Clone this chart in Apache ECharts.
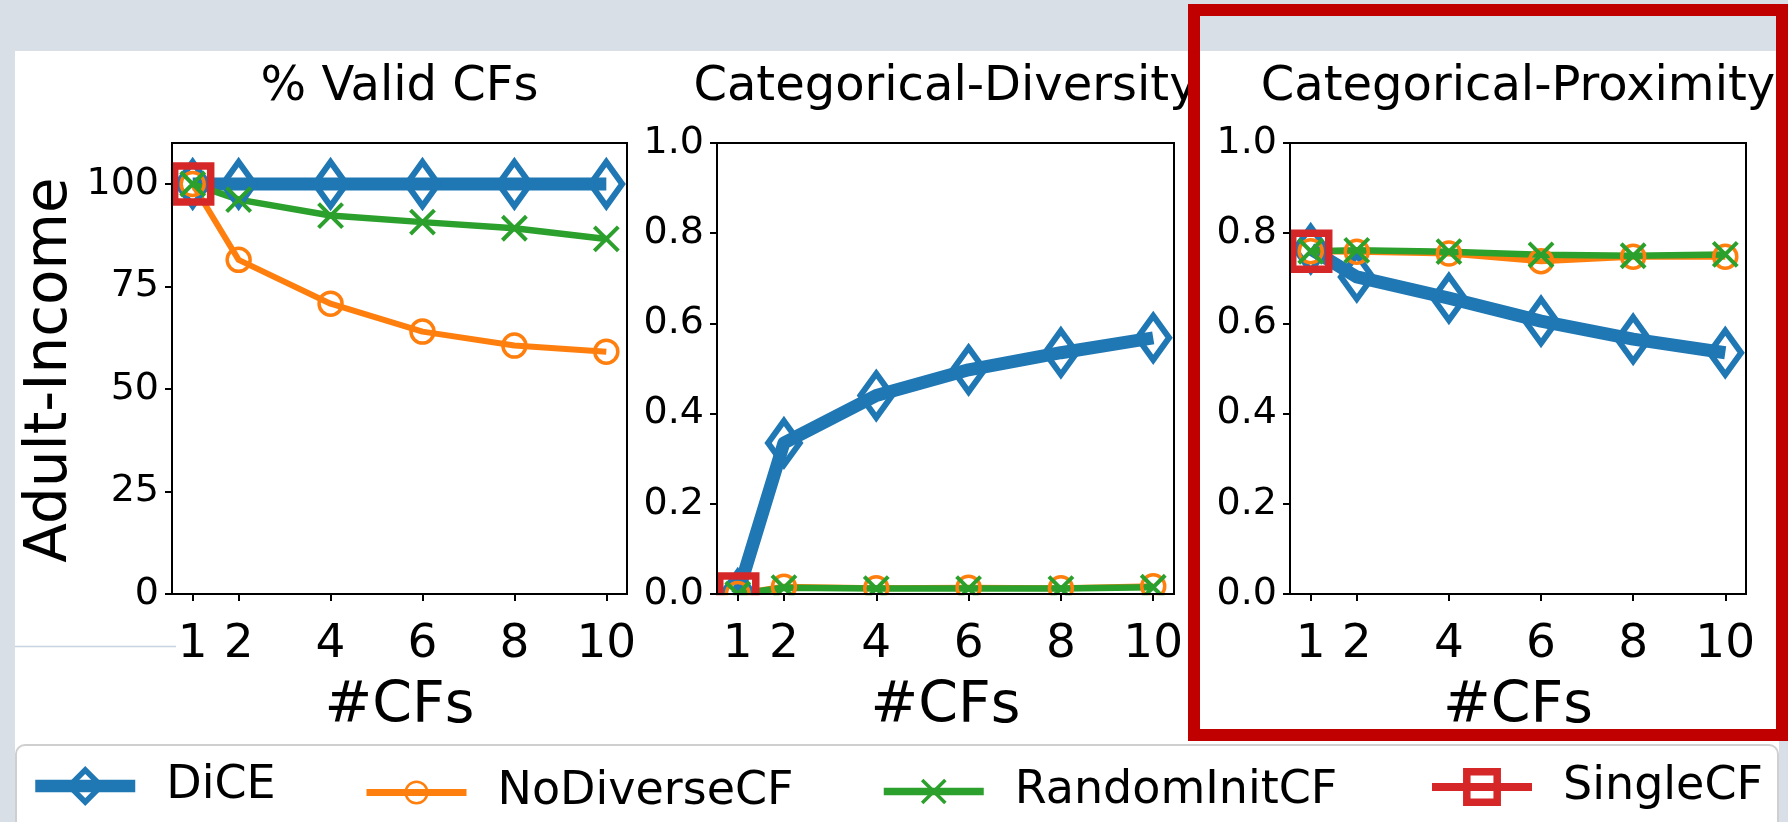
<!DOCTYPE html>
<html><head><meta charset="utf-8">
<script src="https://cdn.jsdelivr.net/npm/echarts@6/dist/echarts.min.js"></script>
<style>
html,body{margin:0;padding:0;background:#d9dfe7;}
#wrap{position:relative;width:1788px;height:822px;overflow:hidden;background:#d9dfe7;}
#paper{position:absolute;left:15px;top:51px;width:1764px;height:771px;background:#fff;}
#chart{position:absolute;left:0;top:0;width:1788px;height:822px;}
</style></head><body>
<div id="wrap"><div id="paper"></div><div id="chart"></div></div>
<script>
// ---------- data ----------
const numCFs = [1, 2, 4, 6, 8, 10];
const xTicks = [1, 2, 4, 6, 8, 10];
const validTicks = [0, 25, 50, 75, 100];
const fracTicks = [0, 0.2, 0.4, 0.6, 0.8, 1.0];
const seriesNames = ['DiCE', 'NoDiverseCF', 'RandomInitCF', 'SingleCF'];
const panelTitles = ['% Valid CFs', 'Categorical-Diversity', 'Categorical-Proximity'];
const rowLabel = 'Adult-Income';
const xName = '#CFs';

const validDiCE = [100, 100, 100, 100, 100, 100];
const validNoDiverse = [100, 81.5, 70.8, 64.0, 60.6, 59.1];
const validRandomInit = [100, 96.2, 92.3, 90.7, 89.2, 86.6];
const validSingle = [100];

const divDiCE = [0, 0.335, 0.44, 0.497, 0.535, 0.568];
const divNoDiverse = [0, 0.016, 0.013, 0.014, 0.013, 0.017];
const divRandomInit = [0, 0.014, 0.012, 0.012, 0.012, 0.015];
const divSingle = [0];

const proxDiCE = [0.765, 0.703, 0.656, 0.605, 0.565, 0.535];
const proxNoDiverse = [0.76, 0.759, 0.755, 0.738, 0.748, 0.748];
const proxRandomInit = [0.76, 0.762, 0.759, 0.752, 0.75, 0.753];
const proxSingle = [0.76];

// ---------- layout / style ----------
const FONT = '"DejaVu Sans", "Noto Sans", sans-serif';
const grids = [
  {left: 172, top: 143, width: 455, height: 451},
  {left: 717, top: 143, width: 457, height: 451},
  {left: 1290, top: 143, width: 456, height: 451}
];
const styles = {
  DiCE:         {color: '#1f77b4', lw: 13, symbol: 'path://M0,-1L0.72,0L0,1L-0.72,0Z', size: 44, bw: 6,
                 legLeft: 29, legH: 40, legLw: 12.5, legBw: 5.5},
  NoDiverseCF:  {color: '#ff7f0e', lw: 6, symbol: 'circle', size: 23, bw: 3.5,
                 legLeft: 363, legH: 27, legLw: 7, legBw: 2.5},
  RandomInitCF: {color: '#2ca02c', lw: 6.5, symbol: 'path://M0,0L1,1M1,0L0,1', size: 24, bw: 4,
                 legLeft: 880, legH: 29, legLw: 7.5, legBw: 3.5},
  SingleCF:     {color: '#d62728', lw: 8, symbol: 'rect', size: 36, bw: 7.5,
                 legLeft: 1428, legH: 38, legLw: 8, legBw: 7.5}
};
const panelData = [
  {DiCE: validDiCE, NoDiverseCF: validNoDiverse, RandomInitCF: validRandomInit, SingleCF: validSingle},
  {DiCE: divDiCE, NoDiverseCF: divNoDiverse, RandomInitCF: divRandomInit, SingleCF: divSingle},
  {DiCE: proxDiCE, NoDiverseCF: proxNoDiverse, RandomInitCF: proxRandomInit, SingleCF: proxSingle}
];
const yMax = [110, 1, 1];
const yTicks = [validTicks, fracTicks, fracTicks];

function mkSeries(name, gi, ys) {
  const s = styles[name];
  return {
    type: 'line', name: name, xAxisIndex: gi, yAxisIndex: gi,
    data: ys.map((y, i) => [numCFs[i], y]),
    symbol: s.symbol, symbolSize: s.size, symbolKeepAspect: true,
    showSymbol: true, showAllSymbol: true,
    lineStyle: {color: s.color, width: s.lw, cap: 'butt', join: 'round'},
    itemStyle: {color: 'rgba(0,0,0,0)', borderColor: s.color, borderWidth: s.bw,
                borderJoin: 'miter', borderMiterLimit: 10},
    emphasis: {disabled: true}, silent: true, animation: false, z: 2
  };
}

const series = [];
panelData.forEach((pd, gi) => seriesNames.forEach(n => series.push(mkSeries(n, gi, pd[n]))));

const axisLineStyle = {color: '#000', width: 2};
const option = {
  animation: false,
  backgroundColor: 'rgba(0,0,0,0)',
  grid: grids.map(g => Object.assign({show: true, borderColor: '#000', borderWidth: 2,
    backgroundColor: 'rgba(0,0,0,0)', containLabel: false, outerBoundsMode: 'none'}, g)),
  xAxis: grids.map((g, i) => ({
    type: 'value', gridIndex: i, min: 0.55, max: 10.45, z: 60,
    axisLine: {show: true, onZero: false, lineStyle: axisLineStyle},
    axisTick: {show: true, length: 7, lineStyle: axisLineStyle, customValues: xTicks},
    axisLabel: {show: true, customValues: xTicks, fontSize: 47, color: '#000', fontFamily: FONT, margin: 27},
    splitLine: {show: false},
    name: xName, nameLocation: 'middle', nameGap: 85, nameMoveOverlap: false,
    nameTextStyle: {fontSize: 57, color: '#000', fontFamily: FONT}
  })),
  yAxis: grids.map((g, i) => ({
    type: 'value', gridIndex: i, min: 0, max: yMax[i], z: 60,
    axisLine: {show: true, onZero: false, lineStyle: axisLineStyle},
    axisTick: {show: true, length: 7, lineStyle: axisLineStyle, customValues: yTicks[i]},
    axisLabel: {show: true, customValues: yTicks[i], fontSize: 38, color: '#000', fontFamily: FONT, margin: 13,
      formatter: i === 0 ? (v => String(v)) : (v => Number(v).toFixed(1))},
    splitLine: {show: false}
  })),
  legend: seriesNames.map(n => {
    const s = styles[n];
    return {
      data: [n], left: s.legLeft, top: 783 - s.legH / 2, padding: 0,
      itemWidth: 100, itemHeight: s.legH, selectedMode: false, z: 10,
      textStyle: {fontSize: 46, color: '#000', fontFamily: FONT, padding: [0, 0, 0, 26]},
      itemStyle: {color: 'rgba(0,0,0,0)', borderColor: s.color, borderWidth: s.legBw, borderJoin: 'miter'},
      lineStyle: {color: s.color, width: s.legLw, cap: 'butt'}
    };
  }),
  graphic: [
    {type: 'line', shape: {x1: 15, y1: 646.5, x2: 176, y2: 646.5}, style: {stroke: '#c8d4e0', lineWidth: 1.5}, z: 1, silent: true},
    {type: 'rect', shape: {x: 706, y: grids[1].top + grids[1].height + 1.2, width: grids[1].width + 30, height: 27},
     style: {fill: '#fff'}, z: 50, silent: true},
    {type: 'rect', shape: {x: 16, y: 745, width: 1762, height: 120, r: 9},
     style: {fill: '#fff', stroke: '#cfcfcf', lineWidth: 2}, z: 1, silent: true},
    ...panelTitles.map((t, i) => ({
      type: 'text', x: grids[i].left + grids[i].width / 2, y: 64, z: 5, silent: true,
      style: {text: t, fill: '#000', fontSize: 48, fontFamily: FONT, align: 'center', verticalAlign: 'top'}
    })),
    {type: 'text', x: 51, y: 370, rotation: Math.PI / 2, z: 5, silent: true,
     style: {text: rowLabel, fill: '#000', fontSize: 58, fontFamily: FONT, align: 'center', verticalAlign: 'middle'}},
    {type: 'rect', shape: {x: 1194, y: 10, width: 588, height: 725},
     style: {fill: 'none', stroke: '#c00000', lineWidth: 12}, z: 100, silent: true}
  ],
  series: series
};

const chart = echarts.init(document.getElementById('chart'), null, {renderer: 'canvas', width: 1788, height: 822});
chart.setOption(option);
</script>
</body></html>
